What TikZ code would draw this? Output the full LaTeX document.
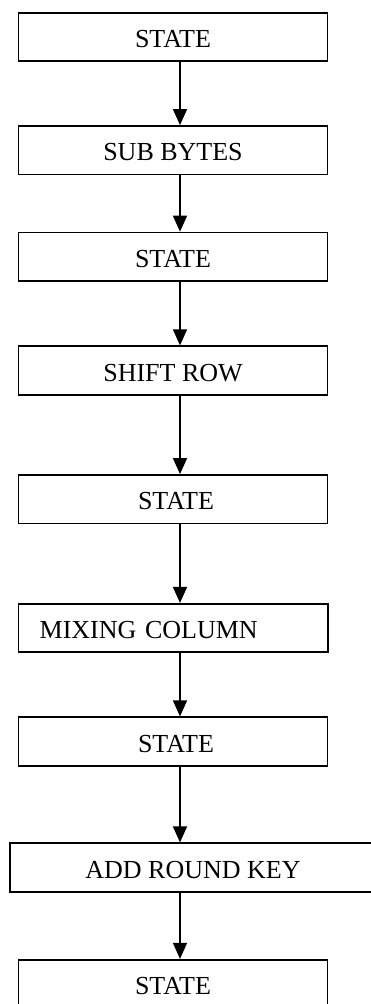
\documentclass[tikz,border=0pt]{standalone}
\usepackage{fontspec}
\setmainfont{Liberation Serif}
\usetikzlibrary{arrows.meta}
\begin{document}
\begin{tikzpicture}[x=1pt,y=-1pt,
  stepbox/.style={draw=black, line width=1.7pt, rectangle, inner sep=0pt,
    minimum width=309pt, minimum height=48.5pt, text height=21pt, text depth=0pt,
    font=\fontsize{26}{30}\selectfont, text=black},
  flow/.style={line width=1.5pt, -{Triangle[length=16pt,width=14pt]}}]
\clip (0,0) rectangle (371,1004);
\fill[white] (0,0) rectangle (371,1004);
\node[stepbox] (s1) at (173,37) {STATE};
\node[stepbox] (sb) at (173,150.2) {SUB BYTES};
\node[stepbox] (s2) at (173,256.8) {STATE};
\node[stepbox] (sr) at (173,370.5) {SHIFT ROW};
\node[stepbox] (s3) at (173,499.2) {\hspace{6pt}STATE};
\node[stepbox, text width=267pt, align=left, inner xsep=21pt, minimum width=309.5pt] (mc) at (173.2,628) {MIXING COLUMN};
\node[stepbox] (s4) at (173,741.5) {\hspace{6pt}STATE};
\node[stepbox, minimum width=366pt] (ark) at (193,867.5) {ADD ROUND KEY};
\node[stepbox] (s5) at (173,984) {STATE};
\draw[flow] (s1.south -| 180,0) -- (sb.north -| 180,0);
\draw[flow] (sb.south -| 180,0) -- (s2.north -| 180,0);
\draw[flow] (s2.south -| 180,0) -- (sr.north -| 180,0);
\draw[flow] (sr.south -| 180,0) -- (s3.north -| 180,0);
\draw[flow] (s3.south -| 180,0) -- (mc.north -| 180,0);
\draw[flow] (mc.south -| 180,0) -- (s4.north -| 180,0);
\draw[flow] (s4.south -| 180,0) -- (ark.north -| 180,0);
\draw[flow] (ark.south -| 180,0) -- (s5.north -| 180,0);
\end{tikzpicture}
\end{document}
